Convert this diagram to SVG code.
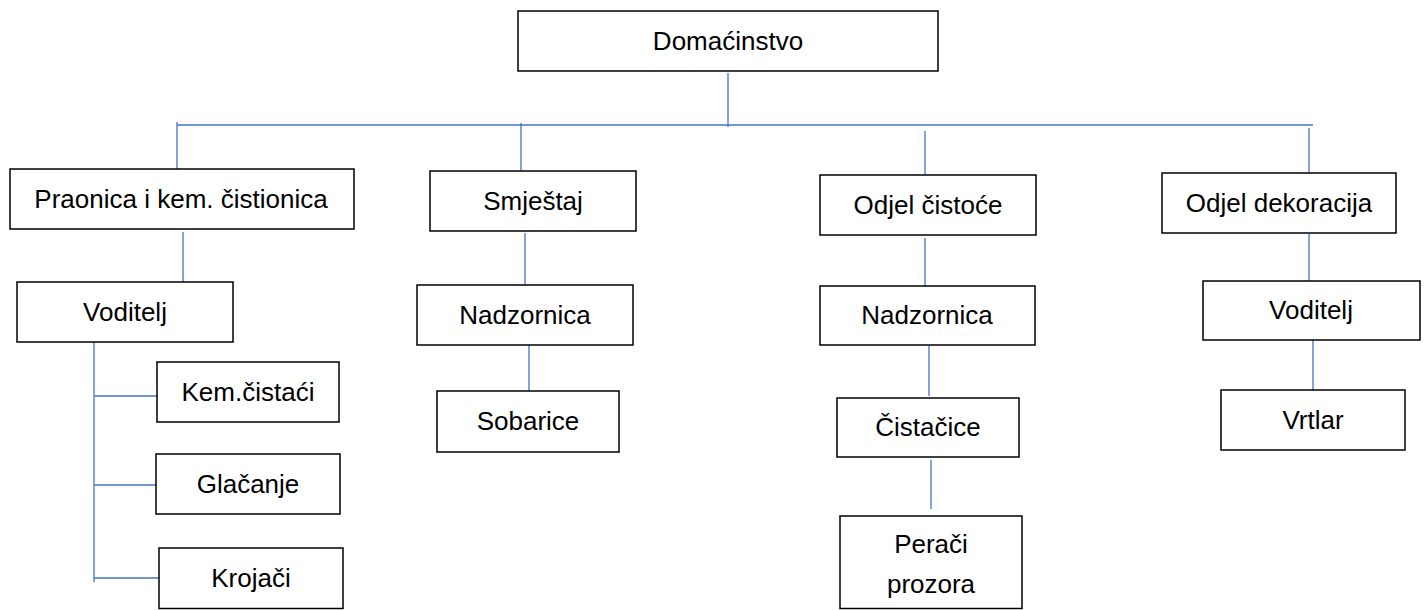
<svg xmlns="http://www.w3.org/2000/svg" width="1427" height="610" viewBox="0 0 1427 610">
<style>
.box{fill:#fff;stroke:#000;stroke-width:1.5}
.t{font-family:"Liberation Sans",Arial,sans-serif;font-size:26px;fill:#000;text-anchor:middle}
.c line{stroke:#4472C4;stroke-width:1.3}
</style>
<rect width="1427" height="610" fill="#fff"/>
<g id="connectors" class="c">
<line x1="728" y1="73" x2="728" y2="127"/>
<line x1="177" y1="125" x2="1313" y2="125"/>
<line x1="177" y1="122" x2="177" y2="169"/>
<line x1="521" y1="123" x2="521" y2="171"/>
<line x1="925" y1="131" x2="925" y2="175"/>
<line x1="1309" y1="128" x2="1309" y2="173"/>
<line x1="183" y1="232" x2="183" y2="282"/>
<line x1="525" y1="233" x2="525" y2="285"/>
<line x1="925" y1="238" x2="925" y2="286"/>
<line x1="1309" y1="234" x2="1309" y2="281"/>
<line x1="94" y1="342" x2="94" y2="582"/>
<line x1="94" y1="396" x2="157" y2="396"/>
<line x1="94" y1="485" x2="156" y2="485"/>
<line x1="94" y1="578" x2="159" y2="578"/>
<line x1="529" y1="342" x2="529" y2="391"/>
<line x1="929" y1="346" x2="929" y2="396"/>
<line x1="931" y1="460" x2="931" y2="509"/>
<line x1="1313" y1="339" x2="1313" y2="390"/>
</g>
<g id="domacinstvo"><rect class="box" x="518" y="11" width="420" height="60"/><text class="t" x="728" y="50">Domaćinstvo</text></g>
<g id="praonica"><rect class="box" x="10" y="169" width="344" height="60"/><text class="t" x="181" y="208">Praonica i kem. čistionica</text></g>
<g id="smjestaj"><rect class="box" x="430" y="171" width="206" height="60"/><text class="t" x="533" y="210">Smještaj</text></g>
<g id="odjel-cistoce"><rect class="box" x="820" y="175" width="216" height="60"/><text class="t" x="928" y="214">Odjel čistoće</text></g>
<g id="odjel-dekoracija"><rect class="box" x="1162" y="173" width="234" height="60"/><text class="t" x="1279" y="212">Odjel dekoracija</text></g>
<g id="voditelj-1"><rect class="box" x="17" y="282" width="216" height="60"/><text class="t" x="125" y="321">Voditelj</text></g>
<g id="nadzornica-1"><rect class="box" x="417" y="285" width="216" height="60"/><text class="t" x="525" y="324">Nadzornica</text></g>
<g id="nadzornica-2"><rect class="box" x="820" y="286" width="215" height="59"/><text class="t" x="927" y="324">Nadzornica</text></g>
<g id="voditelj-2"><rect class="box" x="1203" y="281" width="217" height="59"/><text class="t" x="1311" y="319">Voditelj</text></g>
<g id="kem-cistaci"><rect class="box" x="157" y="362" width="182" height="60"/><text class="t" x="248" y="401">Kem.čistaći</text></g>
<g id="glacanje"><rect class="box" x="156" y="454" width="184" height="60"/><text class="t" x="248" y="493">Glačanje</text></g>
<g id="krojaci"><rect class="box" x="159" y="548" width="184" height="60.5"/><text class="t" x="251" y="587">Krojači</text></g>
<g id="sobarice"><rect class="box" x="437" y="391" width="182" height="61"/><text class="t" x="528" y="430">Sobarice</text></g>
<g id="cistacice"><rect class="box" x="837" y="398" width="182" height="59"/><text class="t" x="928" y="436">Čistačice</text></g>
<g id="peraci-prozora"><rect class="box" x="840" y="516" width="182" height="92.5"/><text class="t" x="931" y="553">Perači</text><text class="t" x="931" y="593">prozora</text></g>
<g id="vrtlar"><rect class="box" x="1221" y="390" width="184" height="60"/><text class="t" x="1313" y="429">Vrtlar</text></g>
</svg>
